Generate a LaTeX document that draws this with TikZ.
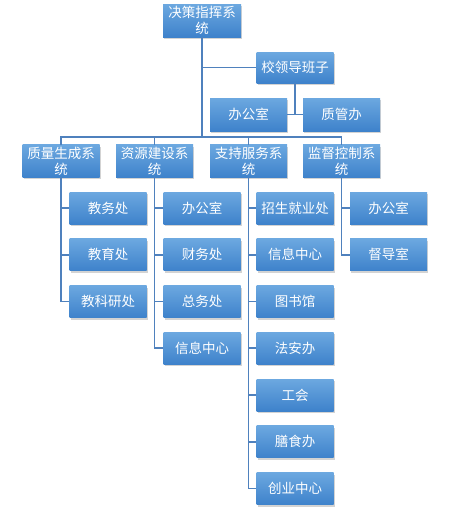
\documentclass[tikz,border=0pt]{standalone}
\usepackage{fontspec}
\setmainfont{Noto Sans CJK SC}
\usetikzlibrary{shadows}
\definecolor{boxtop}{HTML}{6CA8E0}
\definecolor{boxbot}{HTML}{3E82CB}
\definecolor{linkblue}{HTML}{4F81BD}

\begin{document}
\begin{tikzpicture}[x=1pt, y=-1pt,
  unitbox/.style={rectangle, minimum width=77pt, minimum height=32pt,
    inner sep=2pt, text width=73pt, align=center,
    top color=boxtop, bottom color=boxbot, draw=none,
    drop shadow={shadow xshift=1.2pt, shadow yshift=-2pt, opacity=0.35},
    text=white, font=\fontsize{13.5}{16}\selectfont},
  link/.style={linkblue, line width=1.8pt}]

% ── Canvas (same size as the reference) ─────────────────────────────
\useasboundingbox (0,0) rectangle (458,512);

% ── Dimensions ───────────────────────────────────────────────────────
\def\rowA{161}      % y of the four system boxes
\def\rowB{208}      % y of the first unit box
\def\rowsep{46.75}  % vertical spacing between unit rows

% ── Top: decision system and school leaders ──────────────────────────
\node[unitbox, minimum width=78pt, minimum height=33pt] (top) at (202,20.5) {决策指挥系\\统};
\node[unitbox, minimum height=31pt] (lead) at (295,67.5) {校领导班子};
\node[unitbox, minimum height=33pt] (office) at (248.5,114.5) {办公室};
\node[unitbox, minimum height=33pt] (quality) at (341.5,114.5) {质管办};

\coordinate (bus) at (202,137);
\draw[link] (top.south) -- (bus);
\draw[link] (top.south) |- (lead.west);
\draw[link] (lead.south) |- (office.east);
\draw[link] (lead.south) |- (quality.west);

% ── The four systems ─────────────────────────────────────────────────
\node[unitbox] (qs) at (61,\rowA) {质量生成系\\统};
\node[unitbox] (rs) at (154.5,\rowA) {资源建设系\\统};
\node[unitbox] (ss) at (248.5,\rowA) {支持服务系\\统};
\node[unitbox] (ms) at (341.5,\rowA) {监督控制系\\统};

\foreach \sys in {qs,rs,ss,ms}
  \draw[link] (bus) -| (\sys.north);

% ── Units under each system ──────────────────────────────────────────
% quality generation
\foreach \lbl [count=\i] in {教务处,教育处,教科研处} {
  \node[unitbox] (qs\i) at (108,{\rowB+(\i-1)*\rowsep}) {\lbl};
  \draw[link] (qs.south) |- (qs\i.west);
}
% resource building
\foreach \lbl [count=\i] in {办公室,财务处,总务处,信息中心} {
  \node[unitbox] (rs\i) at (202,{\rowB+(\i-1)*\rowsep}) {\lbl};
  \draw[link] (rs.south) |- (rs\i.west);
}
% support services
\foreach \lbl [count=\i] in {招生就业处,信息中心,图书馆,法安办,工会,膳食办,创业中心} {
  \node[unitbox] (ss\i) at (295,{\rowB+(\i-1)*\rowsep}) {\lbl};
  \draw[link] (ss.south) |- (ss\i.west);
}
% supervision
\foreach \lbl [count=\i] in {办公室,督导室} {
  \node[unitbox] (ms\i) at (388.5,{\rowB+(\i-1)*\rowsep}) {\lbl};
  \draw[link] (ms.south) |- (ms\i.west);
}

\end{tikzpicture}
\end{document}
